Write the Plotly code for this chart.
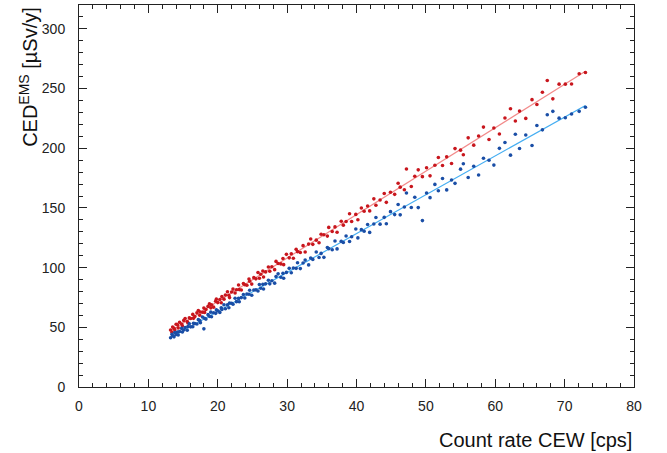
import numpy as np
import plotly.graph_objects as go

# Count rate of the CEW detector [cps], shared by both dose series
count_rate = [
    13.2, 13.4, 13.5, 13.7, 13.8, 14.0, 14.2, 14.3, 14.5, 14.8,
    14.9, 15.1, 15.3, 15.6, 15.7, 15.9, 16.1, 16.4, 16.5, 16.7,
    17.0, 17.2, 17.4, 17.5, 17.8, 18.0, 18.1, 18.3, 18.6, 18.8,
    19.0, 19.1, 19.4, 19.7, 19.8, 20.0, 20.3, 20.5, 20.6, 20.9,
    21.1, 21.4, 21.6, 21.7, 22.0, 22.2, 22.5, 22.7, 23.0, 23.1,
    23.4, 23.7, 23.9, 24.2, 24.5, 24.6, 24.9, 25.2, 25.5, 25.8,
    26.0, 26.2, 26.5, 26.6, 26.9, 27.3, 27.5, 27.8, 28.2, 28.4,
    28.7, 29.1, 29.4, 29.5, 29.9, 30.3, 30.6, 30.9, 31.3, 31.5,
    31.9, 32.3, 32.6, 33.1, 33.4, 33.7, 34.2, 34.6, 34.9, 35.3,
    35.8, 36.0, 36.5, 36.9, 37.2, 37.8, 38.1, 38.5, 39.0, 39.3,
    39.9, 40.2, 40.7, 41.1, 41.6, 41.9, 42.5, 42.8, 43.4, 44.0,
    44.3, 44.9, 45.5, 46.0, 46.3, 46.9, 47.2, 47.9, 48.4, 48.9,
    49.5, 50.1, 50.6, 51.3, 51.8, 52.4, 53.0, 53.7, 54.2, 55.0,
    55.4, 56.1, 56.9, 57.6, 58.3, 59.1, 59.8, 60.6, 61.4, 62.2,
    62.9, 63.5, 64.4, 65.3, 66.0, 66.8, 67.5, 68.3, 69.2, 70.1,
    71.0, 72.1, 73.0,
]

# CED (EMS) dose rate [uSv/y], red series
ced_red = [
    47.7, 45.9, 50.2, 49.1, 48.0, 52.6, 52.2, 49.5, 54.2, 52.8,
    51.2, 55.8, 57.4, 54.9, 53.7, 57.9, 57.4, 60.8, 57.5, 59.0,
    62.1, 64.1, 60.1, 62.8, 62.6, 66.1, 62.5, 64.9, 67.5, 69.6,
    66.3, 68.8, 66.9, 71.8, 73.6, 70.7, 73.3, 70.6, 75.7, 73.6,
    77.1, 79.8, 76.8, 74.9, 79.6, 82.0, 78.7, 81.5, 85.5, 81.6,
    81.2, 86.6, 85.6, 85.2, 90.5, 88.6, 86.2, 91.6, 90.6, 95.9,
    91.1, 94.5, 97.2, 92.2, 96.4, 100.5, 97.0, 100.7, 98.3, 105.2,
    103.4, 103.1, 107.6, 102.5, 111.1, 108.2, 111.6, 107.9, 115.3, 113.4,
    112.7, 118.4, 113.1, 119.7, 124.0, 119.5, 123.0, 120.8, 127.9, 127.6,
    126.4, 133.7, 130.2, 134.1, 129.6, 138.9, 135.6, 138.7, 145.1, 138.6,
    144.6, 140.1, 149.9, 147.2, 151.6, 147.5, 157.6, 152.2, 156.7, 162.1,
    154.7, 163.2, 161.4, 170.7, 167.4, 165.2, 182.6, 167.9, 176.6, 181.9,
    176.2, 183.7, 176.9, 185.8, 192.3, 185.6, 192.8, 187.2, 199.7, 198.4,
    194.6, 208.7, 202.6, 210.3, 217.7, 207.3, 217.0, 211.9, 225.3, 233.1,
    222.8, 231.1, 225.0, 240.7, 236.6, 246.9, 256.7, 241.4, 253.7, 253.7,
    253.8, 262.4, 263.5,
]

# CED (EMS) dose rate [uSv/y], blue series
ced_blue = [
    41.2, 44.1, 42.9, 42.0, 45.6, 44.0, 46.1, 43.5, 46.5, 49.1,
    46.1, 47.7, 49.9, 47.5, 50.6, 52.9, 50.4, 50.5, 53.3, 53.1,
    52.8, 56.4, 55.7, 53.9, 58.6, 48.7, 57.5, 56.9, 60.6, 59.2,
    62.7, 58.8, 62.2, 61.7, 64.6, 63.8, 62.5, 66.4, 65.0, 68.9,
    65.6, 68.8, 66.4, 70.4, 70.1, 69.3, 74.3, 71.5, 74.2, 71.4,
    74.9, 77.5, 74.5, 77.9, 77.7, 81.1, 76.9, 81.3, 81.4, 80.4,
    85.8, 82.7, 86.0, 82.1, 86.4, 89.4, 86.4, 89.0, 87.0, 92.5,
    94.8, 91.9, 95.2, 91.1, 96.0, 99.4, 95.7, 99.7, 99.4, 104.1,
    99.2, 103.9, 106.3, 102.3, 108.1, 106.9, 113.1, 108.5, 111.9, 108.6,
    116.9, 115.9, 115.0, 122.3, 115.7, 122.0, 121.1, 126.5, 121.9, 125.9,
    132.3, 124.9, 131.8, 130.5, 136.1, 129.5, 136.5, 142.0, 136.4, 142.1,
    136.7, 146.9, 144.4, 152.9, 144.2, 150.8, 162.5, 150.4, 158.9, 150.3,
    139.4, 162.5, 158.6, 169.7, 164.4, 174.7, 165.1, 173.4, 170.6, 182.5,
    187.0, 175.5, 184.9, 177.6, 191.6, 189.9, 185.9, 199.9, 204.8, 194.2,
    211.7, 199.8, 211.1, 202.3, 219.1, 215.4, 228.1, 230.9, 225.2, 225.5,
    228.7, 230.9, 234.4,
]

x_ticks = [0, 10, 20, 30, 40, 50, 60, 70, 80]
y_ticks = [0, 50, 100, 150, 200, 250, 300]

RED_PT, RED_FIT = "#c8161d", "#f28a8a"
BLUE_PT, BLUE_FIT = "#1a4ea6", "#45aef2"
FONT = "Liberation Sans, Arial, Helvetica, sans-serif"

x = np.array(count_rate)
x_line = np.array([x.min(), x.max()])

fig = go.Figure()
# straight-line fits through each series
for y_vals, fit_col in [(ced_red, RED_FIT), (ced_blue, BLUE_FIT)]:
    slope, intercept = np.polyfit(x, np.array(y_vals), 1)
    fig.add_trace(go.Scatter(
        x=x_line, y=slope * x_line + intercept, mode="lines",
        line=dict(color=fit_col, width=1.2), hoverinfo="skip", showlegend=False,
    ))
for y_vals, pt_col in [(ced_red, RED_PT), (ced_blue, BLUE_PT)]:
    fig.add_trace(go.Scatter(
        x=count_rate, y=y_vals, mode="markers",
        marker=dict(color=pt_col, size=3.6, symbol="circle", line=dict(width=0)),
        showlegend=False,
    ))

axis_common = dict(
    showgrid=False, zeroline=False, showline=True, linecolor="#222", linewidth=1,
    mirror="ticks", ticks="inside", ticklen=8, tickwidth=1, tickcolor="#222",
    tickfont=dict(family=FONT, size=14, color="#222"),
)
fig.update_xaxes(
    range=[0, 80], tickvals=x_ticks, ticklabelstandoff=6,
    minor=dict(dtick=2, ticks="inside", ticklen=4, tickcolor="#222"),
    **axis_common,
)
fig.update_yaxes(
    range=[0, 320], tickvals=y_ticks, ticklabelstandoff=10,
    minor=dict(dtick=10, ticks="inside", ticklen=4, tickcolor="#222"),
    **axis_common,
)

fig.add_annotation(
    text="Count rate CEW [cps]", xref="paper", yref="paper", x=1.0, y=-0.105,
    xanchor="right", yanchor="top", showarrow=False,
    font=dict(family=FONT, size=20, color="#111"),
)
fig.add_annotation(
    text="CED<sup>EMS</sup> [µSv/y]", xref="paper", yref="paper", x=-0.066, y=1.0,
    xanchor="right", yanchor="top", textangle=-90, showarrow=False,
    font=dict(family=FONT, size=20, color="#111"),
)

fig.update_layout(
    width=667, height=453, margin=dict(l=79, r=33, t=5, b=66),
    paper_bgcolor="white", plot_bgcolor="white",
)

fig.write_html("out.html")
